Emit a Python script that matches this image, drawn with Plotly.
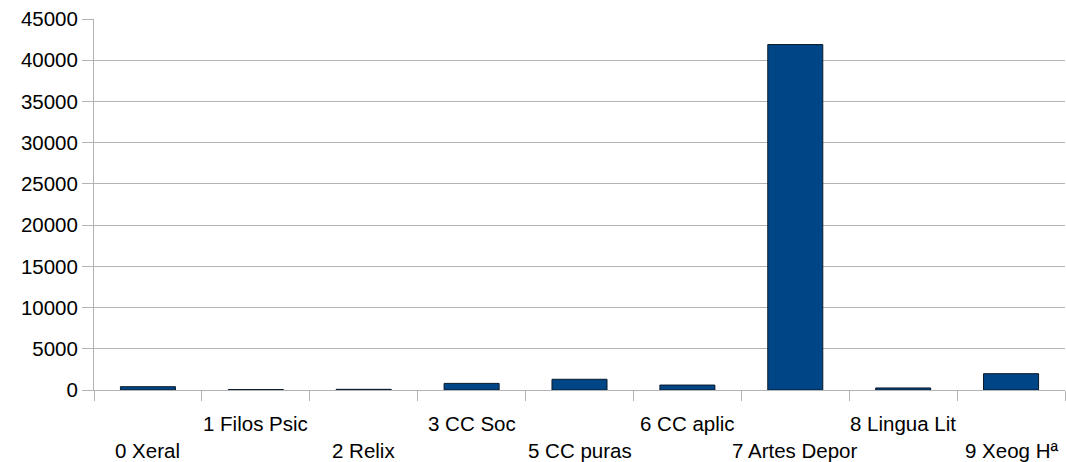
import plotly.graph_objects as go

# Data
categories = ["0 Xeral", "1 Filos Psic", "2 Relix", "3 CC Soc", "5 CC puras",
              "6 CC aplic", "7 Artes Depor", "8 Lingua Lit", "9 Xeog Hª"]
values = [400, 50, 80, 800, 1300, 600, 41900, 250, 1980]
y_ticks = [0, 5000, 10000, 15000, 20000, 25000, 30000, 35000, 40000, 45000]

FONT = "Liberation Sans, Arial, sans-serif"
FSIZE = 20.5
GRID = "#b3b3b3"

fig = go.Figure()
fig.add_trace(go.Bar(
    x=categories,
    y=values,
    marker=dict(color="#004586", line=dict(color="#0a1a2a", width=1)),
))

# staggered category labels: odd positions on upper row, even on lower row
for i, cat in enumerate(categories):
    fig.add_annotation(
        x=cat, xref="x", y=0, yref="paper",
        text=cat, showarrow=False,
        yanchor="middle", yshift=-33 if i % 2 == 1 else -60,
        font=dict(family=FONT, size=FSIZE, color="#000000"),
    )

fig.update_layout(
    width=1066, height=462,
    margin=dict(l=94, r=1, t=19, b=72),
    paper_bgcolor="white",
    plot_bgcolor="white",
    showlegend=False,
    bargap=0.49,
    font=dict(family=FONT, size=FSIZE, color="#000000"),
)
fig.update_xaxes(
    type="category",
    showticklabels=False,
    tickson="boundaries",
    ticks="outside", ticklen=10, tickcolor=GRID, tickwidth=1,
    showgrid=False,
    showline=True, linecolor=GRID, linewidth=1,
    range=[-0.5, len(categories) - 0.5],
)
fig.update_yaxes(
    range=[0, 45000],
    tickvals=y_ticks,
    ticktext=[str(v) for v in y_ticks],
    ticks="outside", ticklen=11, tickcolor=GRID, tickwidth=1,
    showgrid=True, gridcolor=GRID, gridwidth=1,
    showline=True, linecolor=GRID, linewidth=1,
    zeroline=False,
    tickfont=dict(family=FONT, size=FSIZE, color="#000000"),
)

fig.write_html(
    "out.html",
    config={"displayModeBar": False},
    post_script="document.body.style.margin='0';document.body.style.overflow='hidden';",
)
